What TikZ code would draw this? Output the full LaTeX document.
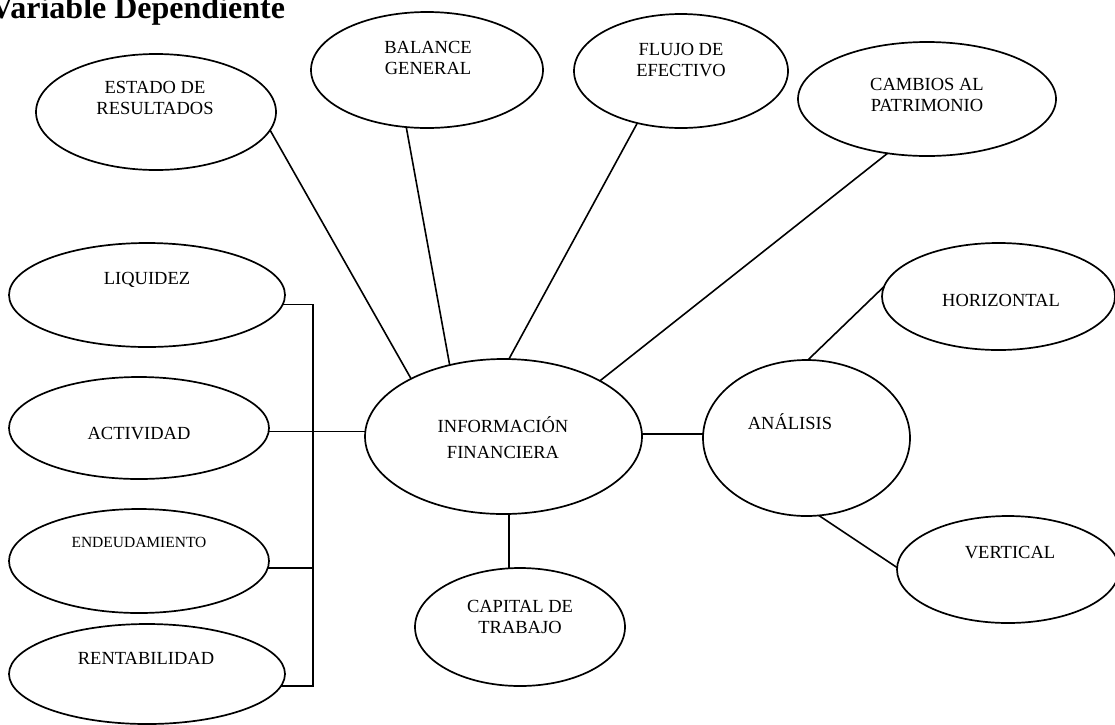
\documentclass[tikz,border=0pt]{standalone}
\usepackage{fontspec}
\setmainfont{Liberation Serif}
\usetikzlibrary{shapes.geometric}
\begin{document}
\begin{tikzpicture}[x=1pt,y=-1pt,
  ell/.style={ellipse,draw=black,line width=1.7pt,inner sep=0pt,outer sep=0pt},
  txt/.style={font=\fontsize{18.5}{21}\selectfont,align=center,inner sep=0pt},
  link/.style={draw=black,line width=1.6pt}]
\fill[white] (0,0) rectangle (1115,724);
\useasboundingbox (0,0) rectangle (1115,724);
% title
\node[anchor=base west,inner sep=0pt,font=\fontsize{32}{36}\selectfont\bfseries] (title) at (-10,18) {Variable Dependiente};
% ellipses
\node[ell,minimum width=240pt,minimum height=116pt] (est) at (156,112) {};
\node[ell,minimum width=232pt,minimum height=116pt] (bal) at (427,70) {};
\node[ell,minimum width=214pt,minimum height=114pt] (flu) at (681,71) {};
\node[ell,minimum width=258pt,minimum height=114pt] (cam) at (927,99) {};
\node[ell,minimum width=276pt,minimum height=104pt] (liq) at (147,295) {};
\node[ell,minimum width=260pt,minimum height=102pt] (act) at (139,428) {};
\node[ell,minimum width=260pt,minimum height=104pt] (end) at (139,561) {};
\node[ell,minimum width=276pt,minimum height=100pt] (ren) at (147,674) {};
\node[ell,minimum width=277pt,minimum height=155pt] (info) at (503.5,436.5) {};
\node[ell,minimum width=210pt,minimum height=118pt] (cap) at (520,627) {};
\node[ell,minimum width=207pt,minimum height=156pt] (ana) at (806.5,438) {};
\node[ell,minimum width=233pt,minimum height=107pt] (hor) at (998.5,296.5) {};
\node[ell,minimum width=222pt,minimum height=107pt] (ver) at (1008,569.5) {};
% texts
\node[txt] (testado) at (155,97.5) {ESTADO DE\\RESULTADOS};
\node[txt] (tbal) at (428,57.5) {BALANCE\\GENERAL};
\node[txt] (tflu) at (681,60) {FLUJO DE\\EFECTIVO};
\node[txt] (tcam) at (927,94.5) {CAMBIOS AL\\PATRIMONIO};
\node[txt,anchor=base] (tliq) at (147,284) {LIQUIDEZ};
\node[txt,anchor=base] (tact) at (139,439) {ACTIVIDAD};
\node[txt,anchor=base,font=\fontsize{15.5}{18}\selectfont] (tend) at (139,547) {ENDEUDAMIENTO};
\node[txt,anchor=base] (tren) at (146,664) {RENTABILIDAD};
\node[txt,font=\fontsize{18.5}{26}\selectfont] (tinfo) at (503,438) {INFORMACIÓN\\FINANCIERA};
\node[txt] (tcap) at (520,616.5) {CAPITAL DE\\TRABAJO};
\node[txt,anchor=base] (tana) at (790,429) {ANÁLISIS};
\node[txt,anchor=base] (thor) at (1001,306) {HORIZONTAL};
\node[txt,anchor=base] (tver) at (1010,558) {VERTICAL};
% connectors
\coordinate (bx) at (313,0);
\draw[link] (est.-9) -- (info.148);
\draw[link] (bal.-110) -- (info.127);
\draw[link] (flu.-130) -- (info.86.5);
\draw[link] (cam.-126) -- (info.30);
\draw[link] (info.178.5) -- (info.178.5 -| act.east);
\draw[link] (info.1.5) -- (info.1.5 -| ana.west);
\draw[link] (info.-86.7) -- (info.-86.7 |- cap.north);
\draw[link] (ana.89) -- (hor.175);
\draw[link] (ana.-81) -- (ver.179);
\draw[link] (liq.-4.6) -- (liq.-4.6 -| bx) -- (ren.-5.4 -| bx) -- (ren.-5.4);
\draw[link] (end.-3) -- (end.-3 -| bx);
\end{tikzpicture}
\end{document}
